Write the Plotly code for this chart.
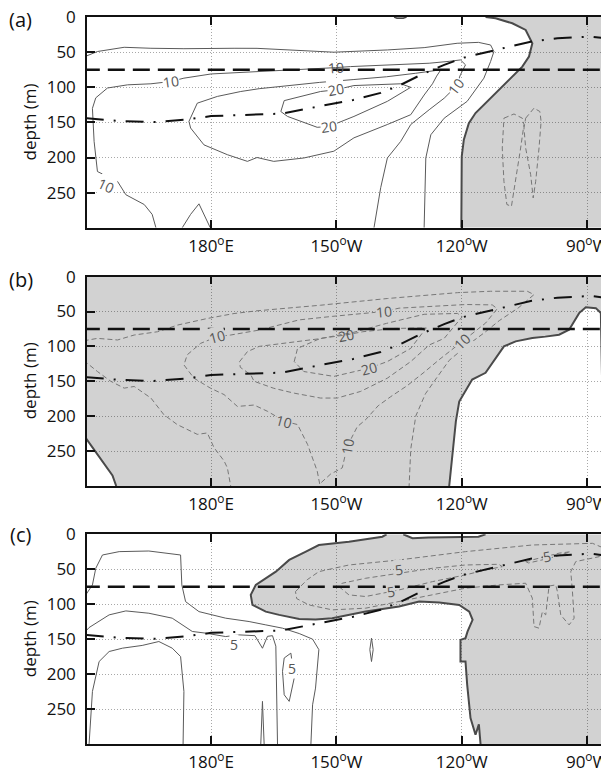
import plotly.graph_objects as go

# ---------------- axes / ticks ----------------
X_RANGE = [150.3, 275.25]
Y_RANGE = [300, 0]
X_TICKS = [180, 210, 240, 270]
X_TICKTEXT = ["180<sup>o</sup>E", "150<sup>o</sup>W", "120<sup>o</sup>W", "90<sup>o</sup>W"]
Y_TICKS = [0, 50, 100, 150, 200, 250]
PANEL_LABELS = ["(a)", "(b)", "(c)"]
Y_TITLE = "depth (m)"

# reference lines (all panels)
MLD_DEPTH = 75
THERMO_LON = [150, 158, 166, 174, 180, 191, 197, 206, 214, 220.6, 225.4, 230.2, 235.8, 240.5, 246.9, 256.5, 262.9, 270.9, 276]
THERMO_DEP = [144, 148, 149.6, 146, 141, 138.5, 137.5, 127, 118, 108, 96.5, 82.3, 68, 57.7, 49, 35, 30.2, 27.8, 31.5]

# ---------------- panel (a) ----------------
A_EDGE_LON = [245.7, 248.1, 252.1, 255.3, 256.9, 256.1, 254.5, 251.3, 247.3, 243.3, 241.7, 240.5, 240, 239.9]
A_EDGE_DEP = [0, 1.7, 8.8, 18.3, 37.3, 56.2, 70.5, 89.4, 113, 136.7, 151, 174.7, 198.4, 300]
A_BLOB_LON = [223.8, 224.5, 226, 226.8]
A_BLOB_DEP = [0, 1.6, 1.6, 0]
A_C5_LON = [149.5, 152.8, 159.2, 165.6, 173.5, 180, 185.5, 191, 198.3, 209.4, 222.2, 231, 238.9, 244, 246.9, 247.7, 246.9, 245.3, 241.3, 235.8, 232.6, 231.4, 231.2, 231]
A_C5_DEP = [57, 49, 43, 44.4, 45, 44.4, 44.4, 44.5, 46.8, 50, 46.8, 43.5, 37.3, 36, 39.7, 49, 63.4, 87, 120, 144, 167.6, 200.7, 250, 300]
A_C10_LON = [166.8, 165.9, 164, 159.6, 157.6, 152.8, 152, 151.6, 152.4, 155.2, 160, 165.6, 170.3, 173.5, 180, 185.5, 191.5, 200, 209.8, 213.4, 222.2, 232.2, 237, 239.7, 240.9, 239.7, 238.6, 235.8, 232.2, 227.8, 225.4, 222.2, 220.6, 219]
A_C10_DEP = [300, 281, 267, 253, 234, 220, 177, 130, 115, 101, 96.5, 95, 91.8, 87, 81, 79.5, 77.6, 75, 72, 70.5, 68, 65.7, 63, 61, 68, 82, 99, 115.5, 132, 153, 177, 200.7, 243, 300]
A_C15_LON = [174.7, 176.7, 181.5, 187.1, 191.5, 198.3, 206, 214, 222, 229, 233, 235, 234, 233, 231, 227.8, 222.2, 214.2, 209.4, 202.2, 195, 191, 188.7, 183.9, 178.3, 175.1, 174.7]
A_C15_DEP = [148.6, 122.6, 113, 106, 102, 97.5, 93, 89, 85, 80, 77, 75, 84, 95, 111, 139, 153, 172, 191, 200.7, 205.5, 200, 205.5, 196, 182, 158, 148.6]
A_C20_LON = [196.7, 197.5, 206.2, 209.8, 214.2, 225.4, 227.8, 222.2, 214.2, 208.2, 205.4, 198.3, 196.7]
A_C20_DEP = [134.5, 119, 106, 103.6, 97.5, 95, 100, 120, 141.5, 155.8, 157, 141.5, 134.5]
A_BUMP_LON = [173.1, 175.1, 177.1, 178.3, 179.8]
A_BUMP_DEP = [300, 281, 266, 281, 300]
A_NEG1_LON = [250.1, 252.5, 254.5, 254.9, 254.1, 252.9, 251.9, 250.8, 250.1, 249.7, 249.9, 250.1]
A_NEG1_DEP = [144, 138, 144, 153, 186.5, 234, 269.5, 267, 234, 186.5, 153, 144]
A_NEG2_LON = [255.3, 257.3, 258.7, 259, 258.5, 257.7, 257.1, 256.5, 255.3, 254.9, 255.3]
A_NEG2_DEP = [144, 129.7, 134.5, 148.6, 186.5, 234, 257.6, 224.5, 186.5, 158, 144]
A_LABEL_TEXT = ["10", "10", "10", "10", "20", "20"]
A_LABEL_LON = [170.3, 154.8, 209.8, 238.6, 209.8, 208.2]
A_LABEL_DEP = [91.8, 240, 72, 99, 103.6, 155.8]
A_LABEL_ANG = [-8, 25, -3, -52, -10, -8]

# ---------------- panel (b) ----------------
B_SW_LON = [149.5, 152.4, 154.4, 156.4, 157.3]
B_SW_DEP = [227, 252, 269, 285, 300]
B_E_LON = [237, 238.6, 239.4, 242.5, 245.7, 248.9, 250.1, 252.9, 256.9, 260, 263.3, 265.7, 268.1, 269.7, 272.1, 273.3, 273.4, 273.7, 274.1]
B_E_DEP = [300, 207, 179, 147.4, 137.8, 109.3, 100, 92.8, 88, 86, 83.2, 76.1, 52.3, 43.8, 45.2, 52.3, 112, 183.5, 300]
B_C5_LON = [149.5, 152.8, 157.6, 161.6, 167.2, 172, 179.1, 185.5, 191, 206.2, 222.2, 232, 239, 246.9, 255.7, 257.3, 253.5, 249, 245.5, 241, 237, 234, 231.3, 229, 227.8, 227.4]
B_C5_DEP = [92, 88.5, 90.8, 83.7, 79, 69.4, 60, 52.9, 49, 41, 31.4, 26, 23, 21, 21, 25.8, 45, 63, 80, 100, 120, 145, 168, 199.7, 247, 300]
B_C10_LON = [206, 205.4, 203.1, 200.7, 197.5, 193.5, 190.3, 186.3, 183.1, 179.9, 175.9, 173.5, 174.3, 177.5, 181.5, 184.7, 191.5, 201.1, 209, 217, 221.4, 225, 233, 241, 247.3, 248.5, 245.7, 240.1, 234.6, 231, 227, 223, 220, 217, 215, 212.6, 211.4, 208.6, 206]
B_C10_DEP = [297, 278.5, 240.5, 212, 207, 193, 184, 186, 169, 160, 145.5, 126.5, 112, 95.6, 86, 83.7, 76.6, 62, 57, 52.3, 50, 45.2, 43, 40, 40.5, 46, 66.6, 92.8, 119, 137, 156, 172, 185, 205, 215, 243, 274, 283, 297]
B_C15_LON = [186.8, 188.7, 191.5, 198.3, 206, 214, 222, 231, 239, 240.1, 235.8, 232.2, 227.8, 222.2, 215.8, 210.2, 206.2, 199.9, 195, 190.3, 189.5, 187, 186.8]
B_C15_DEP = [122, 107.5, 100, 95, 89, 80, 67, 54, 52.8, 57.6, 88.5, 98, 121.7, 145.5, 164.5, 174, 174, 167, 160, 150, 140.7, 130, 122]
B_C20_LON = [199.9, 200.7, 206.2, 212.2, 216.3, 223.8, 231.5, 227.8, 222.2, 217.8, 209.4, 202.2, 199.9]
B_C20_DEP = [121.7, 102.8, 88.5, 83.7, 79, 74.3, 73.5, 102.8, 121.7, 131.3, 143, 136, 121.7]
B_C5W_LON = [149.5, 152.8, 156, 159.2, 161.6, 165.6, 168.7, 171.9, 176.7, 179.1, 180.7, 183.1, 183.9, 184.7]
B_C5W_DEP = [120, 136, 150, 159.8, 157.4, 174, 197.8, 212, 226, 224, 245, 264, 274, 300]
B_LABEL_TEXT = ["10", "10", "10", "10", "10", "20", "20"]
B_LABEL_LON = [181.5, 197.5, 212.6, 221.4, 240.1, 212.2, 217.8]
B_LABEL_DEP = [86, 207, 243, 50, 92.8, 83.7, 131.3]
B_LABEL_ANG = [-15, 15, -80, -5, -45, -10, -15]

# ---------------- panel (c) ----------------
C_EDGE_LON = [222, 221, 213, 205.8, 202.7, 198.7, 195.5, 193.1, 190.7, 189.5, 189.9, 193.1, 196.3, 201.1, 205, 209, 217, 225, 229.8, 234.6, 239.4, 241.8, 242.6, 241.4, 240.9, 239.7, 239.7, 240.9, 241.3, 242.1, 243.3, 244.1, 244.5]
C_EDGE_DEP = [0, 3.4, 10.6, 15.3, 24.8, 36.7, 53.4, 62.9, 72.4, 86.7, 101, 110.6, 115.3, 121, 122, 120, 110.6, 103.4, 96.3, 97.7, 101, 110.6, 122.4, 139, 148.6, 151, 182, 182, 215, 263, 286.7, 272, 300]
C_NOTCH_LON = [226, 228.2, 232, 237, 244, 245.7]
C_NOTCH_DEP = [0, 5.7, 4.5, 4, 3.5, 0]
C_S1_LON = [150, 151.6, 152.4, 154, 158, 165.1, 172.7, 173, 173.9, 177.1, 183.5, 189.1, 193.1, 197.1, 201.1, 204.3, 205.8, 205.5, 205, 204.3, 203.9]
C_S1_DEP = [86.7, 72.4, 48.6, 29.6, 24.8, 23.9, 29.6, 72.4, 96.3, 110.6, 120, 124.8, 129.6, 134.3, 142, 150, 165, 190, 220, 243.9, 300]
C_S2_LON = [149.5, 150.8, 155.6, 159.6, 165.1, 170.7, 175.5, 178.7, 183.5, 186.7, 190.5, 192.3, 193.5, 194.7, 195.5, 195.9]
C_S2_DEP = [142, 133.4, 115.3, 109.6, 112.9, 120, 139, 141.4, 146.3, 143.9, 145, 163, 146, 145, 160, 300]
C_S3_LON = [150.8, 151.6, 153.2, 155.6, 158.8, 163.5, 167.5, 170.7, 172.7, 173.5, 173.3]
C_S3_DEP = [300, 224.8, 182, 167.7, 162.9, 159, 153.4, 162.9, 174.9, 224.8, 300]
C_SPIKE_LON = [191.9, 192.3, 192.7]
C_SPIKE_DEP = [300, 239, 300]
C_LOOP_LON = [197.5, 199.1, 199.9, 198.7, 197.5, 197.1, 197.5]
C_LOOP_DEP = [177, 170, 205.7, 239, 229.6, 196, 177]
C_TINY_LON = [218.4, 218.8, 218.4, 218.0, 218.4]
C_TINY_DEP = [148.6, 165, 182, 165, 148.6]
C_N1_LON = [200.2, 203, 205.8, 213, 225, 240.9, 256.9, 271.3, 274.1, 272.9, 267.3, 266.1, 266.5, 266.9, 265.7, 263.7, 262.9, 262.5, 260.9, 260.1, 259.3, 258.5, 257.3, 256.9, 255.3, 248.9, 240.9, 233, 225, 217, 209, 203.4, 200.5, 200.2]
C_N1_DEP = [82, 65, 53.4, 43.9, 36.7, 24.8, 15.3, 12.9, 20, 32, 39, 53.4, 82, 120, 129.6, 115.3, 82, 72.4, 74, 115.3, 110.6, 134.3, 132, 91.4, 70, 72.4, 77.1, 86.7, 96.3, 105.7, 108.1, 101, 92, 82]
C_N2_LON = [210.6, 213, 217, 225, 233, 240.9, 245.7, 249.7, 248.9, 240.9, 233, 225, 217, 211.4, 210.6]
C_N2_DEP = [74.8, 86.7, 89, 79.6, 67.7, 58.1, 51, 46.3, 42.9, 43.9, 48.6, 55.7, 62.9, 70, 74.8]
C_N3_LON = [255.3, 258, 260.3, 263.3, 266, 263, 259, 256, 255.3]
C_N3_DEP = [39, 35, 32, 27, 25, 31, 37, 41, 39]
C_LABEL_TEXT = ["5", "5", "5", "5", "5"]
C_LABEL_LON = [185.5, 199.4, 225, 223, 260.3]
C_LABEL_DEP = [158, 191.4, 51, 82, 32]
C_LABEL_ANG = [0, 0, -8, -8, -10]

# ---------------- styling ----------------
FONT = "Open Sans, Noto Sans, sans-serif"
FILL = "rgba(0,0,0,0.175)"
FILL_SOLID = "#d2d2d2"
EDGE_COLOR = "#4a4a4a"
SOLID_COLOR = "#5a5a5a"
DASH_COLOR = "#777777"

# page layout (the page body has an 8px default margin)
PAGE_OFF = 8
FIG_W, FIG_H = 609 - PAGE_OFF, 770 - PAGE_OFF
PLOT_L = 87 - PAGE_OFF          # left axis at page x = 87
PLOT_T = 17 - PAGE_OFF          # top of panel (a) at page y = 17
PLOT_BOT = 744 - PAGE_OFF       # bottom of panel (c) at page y = 744
PLOT_W = FIG_W - PLOT_L
PLOT_H = PLOT_BOT - PLOT_T
PANEL_PX = [[17.1, 227.7], [276.6, 486.0], [534.3, 744.3]]   # page y of panel top/bottom
LABEL_PY = [19, 279, 534]


def py2paper(py):
    return (744 - py) / PLOT_H


DOMAINS = [[max(0.0, py2paper(b)), min(1.0, py2paper(t))] for t, b in PANEL_PX]

fig = go.Figure()


def ax(i):
    return ("x" if i == 0 else "x%d" % (i + 1)), ("y" if i == 0 else "y%d" % (i + 1))


def add_line(i, lon, dep, color=SOLID_COLOR, width=1.0, dash="solid"):
    xa, ya = ax(i)
    fig.add_trace(go.Scatter(x=lon, y=dep, mode="lines", xaxis=xa, yaxis=ya,
                             line=dict(color=color, width=width, dash=dash),
                             hoverinfo="skip", showlegend=False))


def add_fill(i, lon, dep):
    xa, ya = ax(i)
    fig.add_trace(go.Scatter(x=lon, y=dep, mode="lines", xaxis=xa, yaxis=ya,
                             fill="toself", fillcolor=FILL, line=dict(width=0),
                             hoverinfo="skip", showlegend=False))


XL = X_RANGE[0] - 1
XR = X_RANGE[1] + 1
YB, YT = Y_RANGE

# ---- fills ----
add_fill(0, A_EDGE_LON + [XR, XR], A_EDGE_DEP + [YB, YT])
add_fill(0, A_BLOB_LON, A_BLOB_DEP)
add_fill(1, [XL, XR, XR] + B_E_LON[::-1] + B_SW_LON[::-1] + [XL],
         [YT, YT, YB] + B_E_DEP[::-1] + B_SW_DEP[::-1] + [B_SW_DEP[0]])
add_fill(2, C_EDGE_LON + [XR, XR] + C_NOTCH_LON[::-1], C_EDGE_DEP + [YB, YT] + C_NOTCH_DEP[::-1])

# ---- panel a contours ----
for lon, dep in [(A_C5_LON, A_C5_DEP), (A_C10_LON, A_C10_DEP), (A_C15_LON, A_C15_DEP),
                 (A_C20_LON, A_C20_DEP), (A_BUMP_LON, A_BUMP_DEP)]:
    add_line(0, lon, dep)
for lon, dep in [(A_NEG1_LON, A_NEG1_DEP), (A_NEG2_LON, A_NEG2_DEP)]:
    add_line(0, lon, dep, DASH_COLOR, 1.0, "5px,3px")
add_line(0, A_EDGE_LON, A_EDGE_DEP, EDGE_COLOR, 2.0)
add_line(0, A_BLOB_LON, A_BLOB_DEP, EDGE_COLOR, 1.5)

# ---- panel b contours ----
for lon, dep in [(B_C5_LON, B_C5_DEP), (B_C10_LON, B_C10_DEP), (B_C15_LON, B_C15_DEP),
                 (B_C20_LON, B_C20_DEP), (B_C5W_LON, B_C5W_DEP)]:
    add_line(1, lon, dep, DASH_COLOR, 1.0, "5px,3px")
add_line(1, B_SW_LON, B_SW_DEP, EDGE_COLOR, 2.0)
add_line(1, B_E_LON, B_E_DEP, EDGE_COLOR, 2.0)

# ---- panel c contours ----
for lon, dep in [(C_S1_LON, C_S1_DEP), (C_S2_LON, C_S2_DEP), (C_S3_LON, C_S3_DEP),
                 (C_SPIKE_LON, C_SPIKE_DEP), (C_LOOP_LON, C_LOOP_DEP), (C_TINY_LON, C_TINY_DEP)]:
    add_line(2, lon, dep)
for lon, dep in [(C_N1_LON, C_N1_DEP), (C_N2_LON, C_N2_DEP), (C_N3_LON, C_N3_DEP)]:
    add_line(2, lon, dep, DASH_COLOR, 1.0, "5px,3px")
add_line(2, C_EDGE_LON, C_EDGE_DEP, EDGE_COLOR, 2.0)
add_line(2, C_NOTCH_LON, C_NOTCH_DEP, EDGE_COLOR, 2.0)

# ---- reference lines in every panel ----
for i in range(3):
    add_line(i, [XL, XR], [MLD_DEPTH, MLD_DEPTH], "#111111", 2.4, "17px,8px")
    add_line(i, THERMO_LON, THERMO_DEP, "#111111", 2.0, "18px,10px,2px,10px")

# ---- contour labels ----
annotations = []
label_sets = [
    (A_LABEL_TEXT, A_LABEL_LON, A_LABEL_DEP, A_LABEL_ANG, ["white", "white", None, "white", "white", "white"]),
    (B_LABEL_TEXT, B_LABEL_LON, B_LABEL_DEP, B_LABEL_ANG, [FILL_SOLID] * 5 + [None, FILL_SOLID]),
    (C_LABEL_TEXT, C_LABEL_LON, C_LABEL_DEP, C_LABEL_ANG, ["white", "white", FILL_SOLID, FILL_SOLID, FILL_SOLID]),
]
for i, (texts, lons, deps, angs, bgs) in enumerate(label_sets):
    xa, ya = ax(i)
    for t, lo, de, an, bg in zip(texts, lons, deps, angs, bgs):
        a = dict(x=lo, y=de, xref=xa, yref=ya, text=t, showarrow=False,
                 textangle=an, font=dict(family=FONT, size=14, color="#555555"),
                 borderpad=0)
        if bg:
            a["bgcolor"] = bg
        annotations.append(a)

# ---- panel letters and y titles ----
for i in range(3):
    annotations.append(dict(x=(20.5 - 87) / PLOT_W, y=py2paper(LABEL_PY[i]),
                            xref="paper", yref="paper", text=PANEL_LABELS[i], showarrow=False,
                            xanchor="center", yanchor="middle",
                            font=dict(family=FONT, size=20, color="#111111")))
    annotations.append(dict(x=(29 - 87) / PLOT_W, y=sum(DOMAINS[i]) / 2,
                            xref="paper", yref="paper", text=Y_TITLE, showarrow=False,
                            textangle=-90, xanchor="center", yanchor="middle",
                            font=dict(family=FONT, size=17, color="#111111")))

layout = dict(width=FIG_W, height=FIG_H,
              margin=dict(l=PLOT_L, r=0, t=PLOT_T, b=FIG_H - PLOT_BOT, autoexpand=False),
              paper_bgcolor="white", plot_bgcolor="white", showlegend=False,
              font=dict(family=FONT, size=17, color="#111111"),
              annotations=annotations)
for i in range(3):
    xk = "xaxis" if i == 0 else "xaxis%d" % (i + 1)
    yk = "yaxis" if i == 0 else "yaxis%d" % (i + 1)
    xa, ya = ax(i)
    layout[xk] = dict(domain=[0, 1], range=X_RANGE, anchor=ya, tickvals=X_TICKS, ticktext=X_TICKTEXT,
                      ticks="inside", ticklen=8, tickwidth=1.5, tickcolor="#111111",
                      showline=True, linecolor="#111111", linewidth=1.5, mirror="ticks",
                      showgrid=True, gridcolor="#a8a8a8", griddash="1px,2px", gridwidth=1,
                      zeroline=False, ticklabelstandoff=2, automargin=False,
                      ticklabeloverflow="allow",
                      tickfont=dict(family=FONT, size=17, color="#111111"))
    layout[yk] = dict(domain=DOMAINS[i], range=Y_RANGE, anchor=xa, tickvals=Y_TICKS,
                      ticks="inside", ticklen=8, tickwidth=1.5, tickcolor="#111111",
                      showline=True, linecolor="#111111", linewidth=1.5, mirror="ticks",
                      showgrid=True, gridcolor="#a8a8a8", griddash="1px,2px", gridwidth=1,
                      zeroline=False, ticklabelstandoff=6, automargin=False,
                      ticklabeloverflow="allow",
                      tickfont=dict(family=FONT, size=17, color="#111111"))

fig.update_layout(**layout)
fig.write_html("out.html")
